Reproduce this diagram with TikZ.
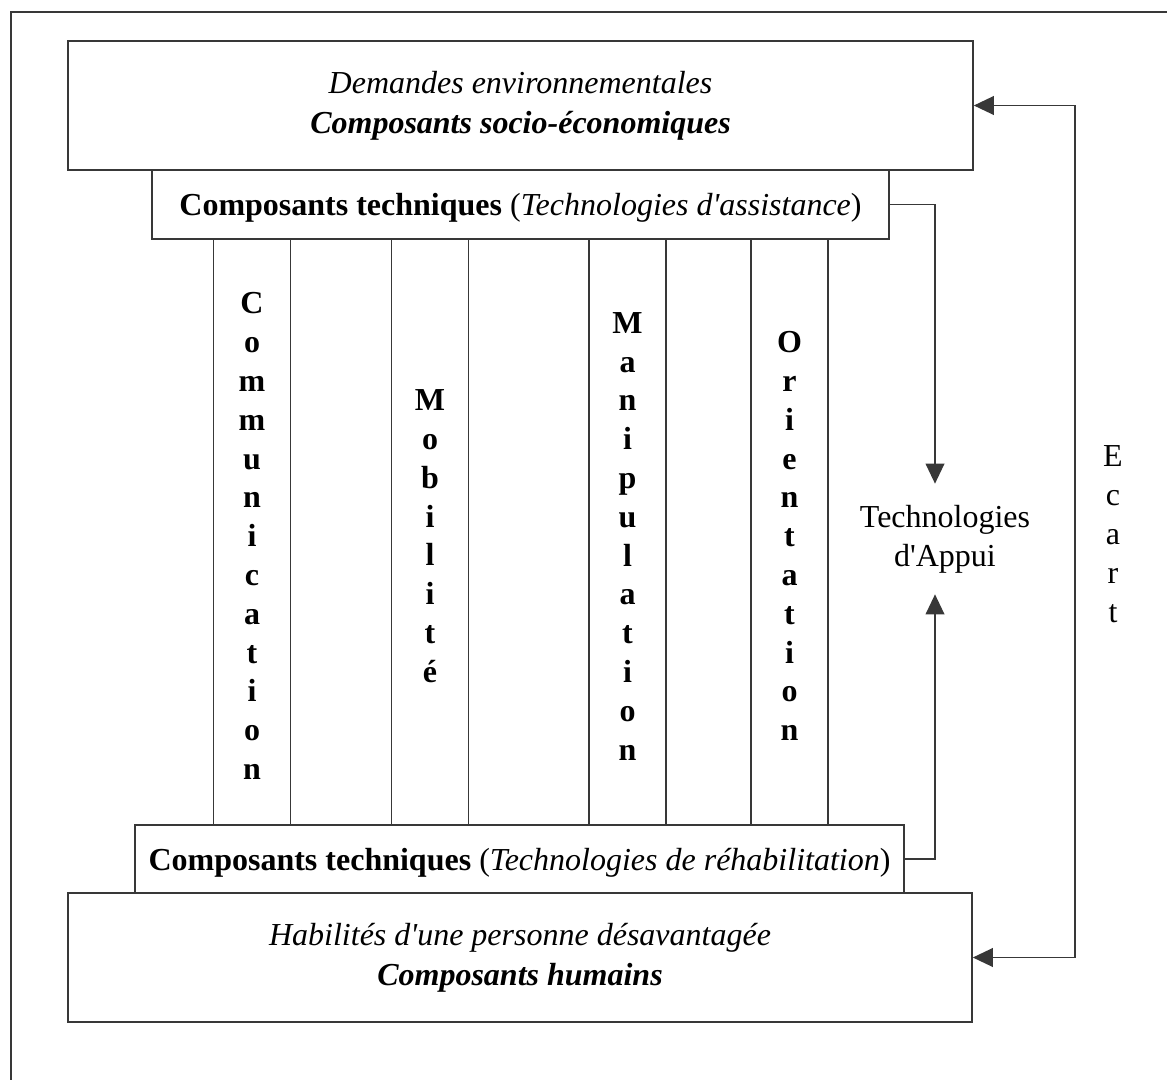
\documentclass[tikz,border=0pt]{standalone}
\usepackage{fontspec}
\setmainfont{Liberation Serif}[Ligatures=TeXOff]
\usetikzlibrary{arrows.meta}
\begin{document}
\begin{tikzpicture}[x=0.75pt,y=-0.75pt,
  >={Triangle[length=15pt,width=14pt]},
  ln/.style={draw=black!78, line width=1.2pt},
  box/.style={ln, inner sep=2pt, align=center, font=\fontsize{24}{30}\selectfont},
  onebox/.style={box, text depth=0pt},
  col/.style={ln, inner sep=0pt, align=center, minimum width=58pt, minimum height=439.5pt, font=\fontsize{24}{29.1}\selectfont\bfseries},
  lbl/.style={inner sep=0pt, align=center, font=\fontsize{24}{29.25}\selectfont},
  arr/.style={ln, ->},
]
\useasboundingbox (0,0) rectangle (1167,1080);
\draw[ln] (11,1080) -- (11,12) -- (1167,12);

\node[box, minimum width=678.75pt, minimum height=96.75pt] (top) at (520.5,105.5)
  {{\itshape Demandes environnementales}\\{\bfseries\itshape Composants socio-économiques}};
\node[onebox, minimum width=552.75pt, minimum height=51.75pt] (assist) at (520.5,204.5)
  {{\bfseries Composants techniques} ({\itshape Technologies d'assistance})};
\node[onebox, minimum width=576.75pt, minimum height=51pt] (rehab) at (519.5,859)
  {{\bfseries Composants techniques} ({\itshape Technologies de réhabilitation})};
\node[box, minimum width=678pt, minimum height=96.75pt] (bot) at (520,957.5)
  {{\itshape Habilités d'une personne désavantagée}\\{\bfseries\itshape Composants humains}};

\node[col] (comm) at (252,532) {\rule{0pt}{22pt}C\\o\\m\\m\\u\\n\\i\\c\\a\\t\\i\\o\\n};
\node[col] (mobi) at (430,532) {\rule{0pt}{22pt}M\\o\\b\\i\\l\\i\\t\\é};
\node[col] (mani) at (627.5,532) {\rule{0pt}{22pt}M\\a\\n\\i\\p\\u\\l\\a\\t\\i\\o\\n};
\node[col] (orie) at (789.5,532) {\rule{0pt}{22pt}O\\r\\i\\e\\n\\t\\a\\t\\i\\o\\n};

\node[lbl, outer ysep=16pt] (appui) at (945,539) {Technologies\\d'Appui};
\node[lbl] (ecart) at (1113,534) {E\\c\\a\\r\\t};

\draw[arr] (assist.east) -| ([xshift=-7.5pt]appui.north);
\draw[arr] (rehab.east) -| ([xshift=-7.5pt]appui.south);
\draw[ln, <->] (top.east) -- ++(101,0) |- (bot.east);
\end{tikzpicture}
\end{document}
